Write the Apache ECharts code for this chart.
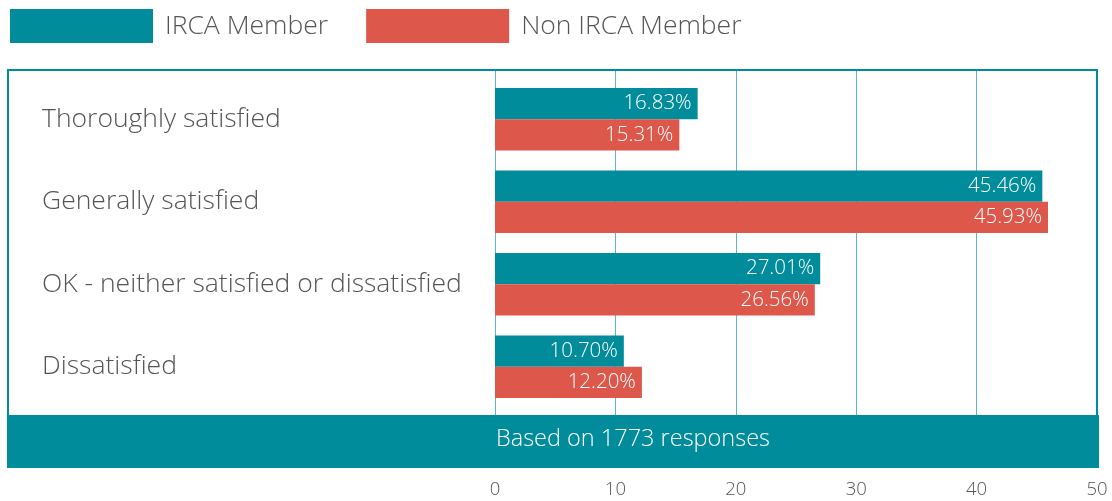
<!DOCTYPE html>
<html>
<head>
<meta charset="utf-8">
<script src="https://cdn.jsdelivr.net/npm/echarts@6/dist/echarts.min.js"></script>
<style>
html,body{margin:0;padding:0;background:#fff;}
#c{width:1112px;height:501px;}
</style>
</head>
<body>
<div id="c"></div>
<script>
const categories = ['Thoroughly satisfied', 'Generally satisfied', 'OK - neither satisfied or dissatisfied', 'Dissatisfied'];
const seriesNames = ['IRCA Member', 'Non IRCA Member'];
const ircaMember = [16.83, 45.46, 27.01, 10.70];
const nonIrcaMember = [15.31, 45.93, 26.56, 12.20];
const axisTicks = [0, 10, 20, 30, 40, 50];
const footnote = 'Based on 1773 responses';

const TEAL = '#008C9A';
const RED = '#DD574B';
const FONT = '"Open Sans", "Liberation Sans", sans-serif';
const TXT = '#555555';

const chart = echarts.init(document.getElementById('c'), null, {renderer: 'canvas'});

const labelCfg = {
  show: true,
  position: 'insideRight',
  distance: 6,
  color: '#fff',
  fontSize: 20.5,
  fontFamily: FONT,
  fontWeight: 300,
  formatter: p => p.value.toFixed(2) + '%'
};

chart.setOption({
  animation: false,
  legend: {
    left: 10,
    top: 9,
    padding: 0,
    itemWidth: 143,
    itemHeight: 34,
    itemGap: 38,
    icon: 'rect',
    data: seriesNames,
    textStyle: {fontSize: 26.5, color: TXT, fontFamily: FONT, fontWeight: 300, padding: [0, 0, 0, 7]}
  },
  grid: [
    {left: 495, right: 15, top: 78, height: 330},
    {left: 495, right: 15, top: 70, height: 345}
  ],
  xAxis: [
    {
      gridIndex: 0, type: 'value', min: axisTicks[0], max: axisTicks[axisTicks.length - 1], interval: 10,
      axisLine: {show: false}, axisTick: {show: false}, axisLabel: {show: false}, splitLine: {show: false}
    },
    {
      gridIndex: 1, type: 'value', min: axisTicks[0], max: axisTicks[axisTicks.length - 1], interval: 10,
      axisLine: {show: false}, axisTick: {show: false},
      axisLabel: {show: true, margin: 65, fontSize: 18.5, color: TXT, fontFamily: FONT, fontWeight: 300},
      splitLine: {show: true, lineStyle: {color: '#5db8c0', width: 1}}
    }
  ],
  yAxis: [
    {
      gridIndex: 0, type: 'category', data: categories, inverse: true,
      axisLine: {show: false}, axisTick: {show: false},
      axisLabel: {show: true, align: 'left', margin: 453, fontSize: 26.5, color: TXT, fontFamily: FONT, fontWeight: 300, padding: [6, 0, 0, 0]}
    },
    {
      gridIndex: 1, type: 'category', data: categories, show: false
    }
  ],
  series: [
    {
      name: seriesNames[0], type: 'bar', xAxisIndex: 0, yAxisIndex: 0,
      data: ircaMember, itemStyle: {color: TEAL},
      barGap: '0%', barCategoryGap: '24%', label: labelCfg, z: 3
    },
    {
      name: seriesNames[1], type: 'bar', xAxisIndex: 0, yAxisIndex: 0,
      data: nonIrcaMember, itemStyle: {color: RED},
      barGap: '0%', barCategoryGap: '24%', label: labelCfg, z: 3
    }
  ],
  graphic: [
    {
      type: 'rect', z: 10, silent: true,
      shape: {x: 8, y: 70, width: 1089, height: 346},
      style: {fill: 'none', stroke: TEAL, lineWidth: 2}
    },
    {
      type: 'rect', z: 11, silent: true,
      shape: {x: 7, y: 415, width: 1092, height: 53},
      style: {fill: TEAL}
    },
    {
      type: 'text', z: 12, silent: true,
      x: 633, y: 439,
      style: {text: footnote, fill: '#fff', fontSize: 23.5, fontFamily: FONT, fontWeight: 300, align: 'center', verticalAlign: 'middle'}
    }
  ]
});
</script>
</body>
</html>
